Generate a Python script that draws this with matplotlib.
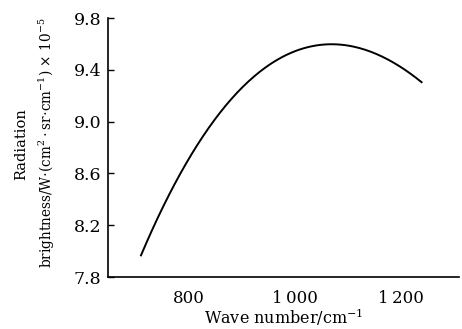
import matplotlib
matplotlib.use("Agg")
import matplotlib.pyplot as plt
import numpy as np

# ==============================
# DATA
# ==============================
wave_number = [710, 745, 783, 821, 877, 936, 1006, 1071, 1131, 1161, 1194, 1239]
brightness = [7.98, 8.29, 8.57, 8.83, 9.17, 9.41, 9.56, 9.60, 9.555, 9.49, 9.43, 9.32]

x_ticks = [800, 1000, 1200]
x_tick_labels = ["800", "1\u2009000", "1\u2009200"]
y_ticks = [7.8, 8.2, 8.6, 9.0, 9.4, 9.8]

plt.rcParams["font.family"] = ["DejaVu Serif"]
plt.rcParams["mathtext.fontset"] = "dejavuserif"

W, H = 462, 329
fig = plt.figure(figsize=(W / 100, H / 100), dpi=100)
ax = fig.add_axes([0.234, 0.158, 0.76, 0.787])

# smooth line through the read points
xs = np.linspace(wave_number[0], wave_number[-1], 200)
coef = np.polyfit(wave_number, brightness, 3)
ax.plot(xs, np.polyval(coef, xs), color="black", lw=1.4)

ax.set_xlim(648, 1310)
ax.set_ylim(7.8, 9.8)
ax.set_xticks(x_ticks)
ax.set_xticklabels(x_tick_labels)
ax.set_yticks(y_ticks)
ax.set_yticklabels([f"{v:.1f}" for v in y_ticks])

ax.spines["top"].set_visible(False)
ax.spines["right"].set_visible(False)
ax.spines["left"].set_linewidth(1.2)
ax.spines["bottom"].set_linewidth(1.2)
ax.tick_params(axis="y", direction="in", length=4, width=1.0, labelsize=12.5, pad=5)
ax.tick_params(axis="x", direction="in", length=0, labelsize=12, pad=9)

# axis titles placed in figure pixels, like the reference
fig.text(284 / W, 1.5 / H, "Wave number/cm$^{-1}$", fontsize=11.5,
         ha="center", va="bottom")
fig.text(21 / W, 1 - 144 / H, "Radiation", fontsize=10.5,
         rotation=90, ha="center", va="center")
fig.text(47 / W, 1 - 143 / H,
         "brightness/W$\\cdot$(cm$^{2}\\cdot$sr$\\cdot$cm$^{-1}$) × 10$^{-5}$",
         fontsize=9.8, rotation=90, ha="center", va="center")

fig.savefig("out.png", dpi=100)
